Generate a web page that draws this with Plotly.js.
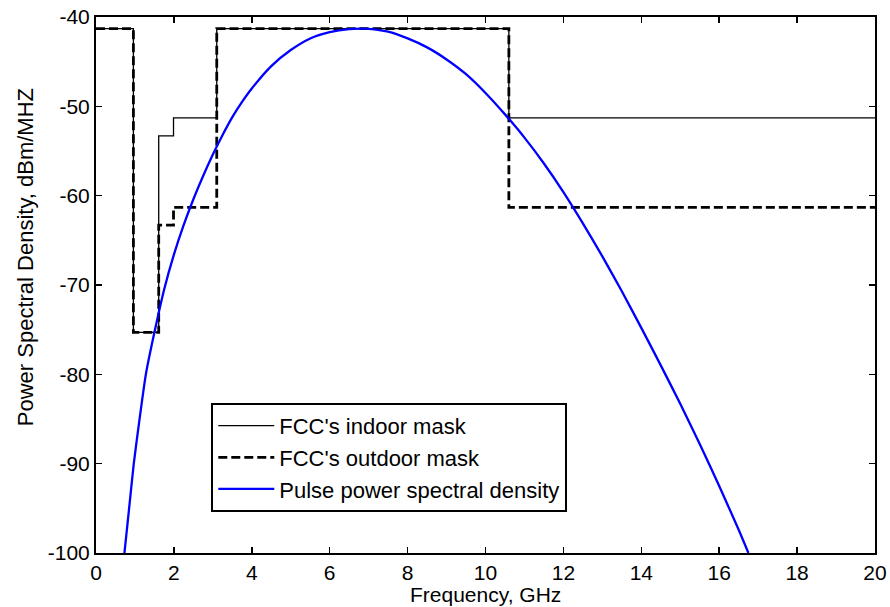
<!DOCTYPE html>
<html>
<head>
<meta charset="utf-8">
<script src="https://cdn.plot.ly/plotly-3.0.1.min.js"></script>
<style>html,body{margin:0;padding:0;background:#fff;}#chart{width:890px;height:607px;}</style>
</head>
<body>
<div id="chart"></div>
<script>
// FCC mask breakpoints (GHz) and levels (dBm/MHz)
const maskFreq = [0, 0.96, 1.61, 1.99, 3.1, 10.6, 20];
const indoorMask = [-41.3, -75.3, -53.3, -51.3, -41.3, -51.3, -51.3];
const outdoorMask = [-41.3, -75.3, -63.3, -61.3, -41.3, -61.3, -61.3];

// Pulse PSD (GHz, dBm/MHz)
const psdFreq = [0.73, 0.85, 0.97, 1.1, 1.28, 1.5, 1.75, 2.0, 2.25, 2.5, 2.75, 3.0, 3.25, 3.5, 3.75, 4.0, 4.5, 5.0, 5.5, 6.0, 6.5, 6.8, 7.0, 7.5, 8.0, 8.5, 9.0, 9.5, 10.0, 10.5, 11.0, 11.5, 12.0, 12.5, 13.0, 13.5, 14.0, 14.5, 15.0, 15.5, 16.0, 16.5, 16.75];
const psdValue = [-100, -95, -90, -85.6, -80, -75.3, -70.5, -66.6, -63.3, -60.4, -57.8, -55.4, -53.2, -51.2, -49.5, -48.0, -45.5, -43.7, -42.4, -41.7, -41.35, -41.3, -41.32, -41.65, -42.4, -43.4, -44.75, -46.4, -48.5, -50.9, -53.5, -56.4, -59.6, -63.1, -66.8, -70.7, -74.8, -79.0, -83.3, -87.8, -92.5, -97.4, -100];

const xTicks = [0, 2, 4, 6, 8, 10, 12, 14, 16, 18, 20];
const yTicks = [-100, -90, -80, -70, -60, -50, -40];

const FONT = 'Liberation Sans, Arial, Helvetica, sans-serif';

const traces = [
  {x: maskFreq, y: indoorMask, mode: 'lines', line: {shape: 'hv', color: '#000', width: 1.3}, name: "FCC's indoor mask"},
  {x: maskFreq, y: outdoorMask, mode: 'lines', line: {shape: 'hv', color: '#000', width: 2.8, dash: '9px,4px'}, name: "FCC's outdoor mask"},
  {x: psdFreq, y: psdValue, mode: 'lines', line: {shape: 'spline', smoothing: 0.6, color: '#0000ff', width: 2.3}, name: 'Pulse power spectral density'}
];

const axisCommon = {
  showgrid: false, zeroline: false, showline: true, linecolor: '#000', linewidth: 2,
  mirror: 'ticks', ticks: 'inside', ticklen: 6, tickwidth: 1.5, tickcolor: '#000',
  tickfont: {family: FONT, size: 21, color: '#000'}
};

const layout = {
  width: 890, height: 607,
  margin: {l: 96, r: 15, t: 17, b: 54},
  paper_bgcolor: '#fff', plot_bgcolor: '#fff',
  showlegend: true,
  legend: {x: 0.148, y: 0.28, xanchor: 'left', yanchor: 'top', bgcolor: '#fff', bordercolor: '#000', borderwidth: 2,
           font: {family: FONT, size: 22, color: '#000'}, itemwidth: 56, tracegroupgap: 0},
  xaxis: Object.assign({}, axisCommon, {range: [0, 20], tickvals: xTicks, ticktext: xTicks.map(String)}),
  yaxis: Object.assign({}, axisCommon, {range: [-100, -40], tickvals: yTicks, ticktext: yTicks.map(String)}),
  annotations: [
    {text: 'Power Spectral Density, dBm/MHZ', xref: 'paper', yref: 'paper', x: -0.091, y: 0.552,
     xanchor: 'center', yanchor: 'middle', textangle: -90, showarrow: false,
     font: {family: FONT, size: 22, color: '#000'}},
    {text: 'Frequency, GHz', xref: 'paper', yref: 'paper', x: 0.5, y: -0.1007,
     xanchor: 'center', yanchor: 'bottom', showarrow: false, borderpad: 0,
     font: {family: FONT, size: 21, color: '#000'}}
  ]
};

Plotly.newPlot('chart', traces, layout, {displayModeBar: false, staticPlot: true});
</script>
</body>
</html>
